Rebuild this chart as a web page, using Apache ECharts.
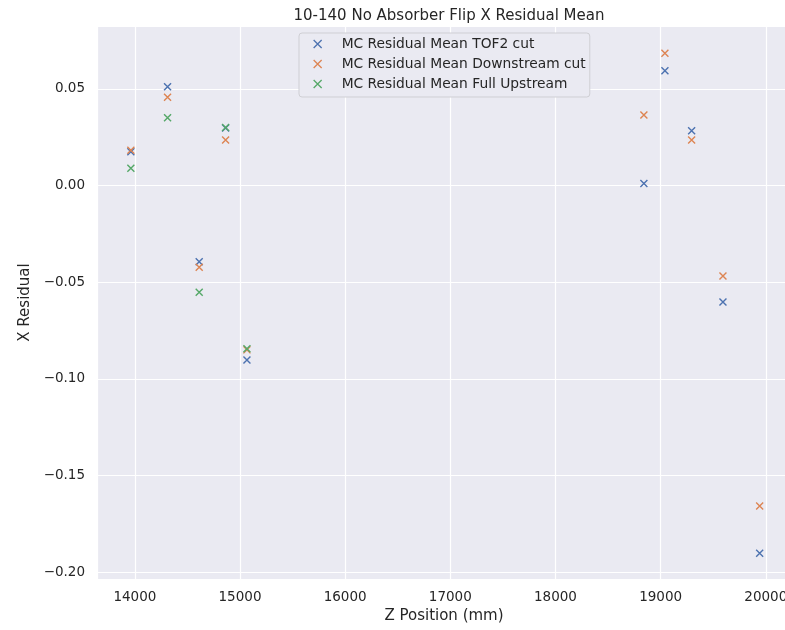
<!DOCTYPE html>
<html>
<head>
<meta charset="utf-8">
<script src="https://cdn.jsdelivr.net/npm/echarts@6/dist/echarts.min.js"></script>
<style>
  html, body { margin: 0; padding: 0; background: #ffffff; }
  #chart { width: 785px; height: 630px; }
</style>
</head>
<body>
<div id="chart"></div>
<script>
// Tracker station z positions (mm)
const zAll = [13962, 14311, 14612, 14863, 15066, 18841, 19041, 19295, 19593, 19942];
const zUpstream = [13962, 14311, 14612, 14863, 15066];

// Residual means per selection
const tof2Cut = [0.0175, 0.0511, -0.0394, 0.0297, -0.0902, 0.0011, 0.0594, 0.0283, -0.0602, -0.1902];
const downstreamCut = [0.0182, 0.0456, -0.0423, 0.0235, -0.0850, 0.0365, 0.0684, 0.0235, -0.0468, -0.1657];
const fullUpstream = [0.0089, 0.0351, -0.0552, 0.0300, -0.0844];

const seriesNames = [
  'MC Residual Mean TOF2 cut',
  'MC Residual Mean Downstream cut',
  'MC Residual Mean Full Upstream'
];
const colors = ['#4C72B0', '#DD8452', '#55A868'];

const crossPath = 'path://M0,0L10,10M10,0L0,10';
const font = 'DejaVu Sans';
const textColor = '#262626';

function pairs(xs, ys) { return xs.map((x, i) => [x, ys[i]]); }

function scatter(name, data, color) {
  return {
    name: name,
    type: 'scatter',
    data: data,
    symbol: crossPath,
    symbolSize: 7,
    itemStyle: { color: color, borderColor: color, borderWidth: 1.4, opacity: 1 },
    emphasis: { disabled: true }
  };
}

const chart = echarts.init(document.getElementById('chart'), null, { renderer: 'canvas' });
chart.setOption({
  backgroundColor: '#ffffff',
  animation: false,
  title: {
    text: '10-140 No Absorber Flip X Residual Mean',
    left: 444, top: 4, textAlign: 'center',
    textStyle: { fontFamily: font, fontSize: 15, fontWeight: 'normal', color: textColor }
  },
  legend: {
    orient: 'vertical',
    left: 299, top: 33,
    padding: [4, 4, 6, 14],
    itemWidth: 8, itemHeight: 8, itemGap: 6,
    backgroundColor: '#EAEAF2',
    borderColor: '#cfcfd4', borderWidth: 1, borderRadius: 3,
    textStyle: { fontFamily: font, fontSize: 13.8, color: textColor, lineHeight: 14, padding: [0, 0, 0, 15] },
    data: seriesNames.map((n, i) => ({
      name: n, icon: crossPath,
      itemStyle: { color: colors[i], borderColor: colors[i], borderWidth: 1.3 }
    }))
  },
  grid: {
    left: 97, top: 26, width: 694, height: 553,
    outerBoundsMode: 'none',
    containLabel: false,
    show: true, backgroundColor: '#EAEAF2', borderWidth: 0
  },
  xAxis: {
    type: 'value',
    min: 13640, max: 20240,
    splitNumber: 6,
    name: 'Z Position (mm)',
    nameLocation: 'middle', nameGap: 27,
    nameTextStyle: { fontFamily: font, fontSize: 15, color: textColor },
    axisLine: { show: false }, axisTick: { show: false },
    axisLabel: {
      fontFamily: font, fontSize: 13.5, color: textColor, margin: 11,
      showMinLabel: false, showMaxLabel: false,
      formatter: v => String(v)
    },
    splitLine: { show: true, lineStyle: { color: '#ffffff', width: 1.2 } }
  },
  yAxis: {
    type: 'value',
    min: -0.2035, max: 0.0825,
    splitNumber: 5,
    name: 'X Residual',
    nameLocation: 'middle', nameGap: 60,
    nameTextStyle: { fontFamily: font, fontSize: 15, color: textColor },
    axisLine: { show: false }, axisTick: { show: false },
    axisLabel: {
      fontFamily: font, fontSize: 13.5, color: textColor, margin: 12,
      showMinLabel: false, showMaxLabel: false,
      formatter: v => (v < -1e-9 ? '\u2212' : '') + Math.abs(v).toFixed(2)
    },
    splitLine: { show: true, lineStyle: { color: '#ffffff', width: 1.2 } }
  },
  series: [
    scatter(seriesNames[0], pairs(zAll, tof2Cut), colors[0]),
    scatter(seriesNames[1], pairs(zAll, downstreamCut), colors[1]),
    scatter(seriesNames[2], pairs(zUpstream, fullUpstream), colors[2])
  ]
});
</script>
</body>
</html>
